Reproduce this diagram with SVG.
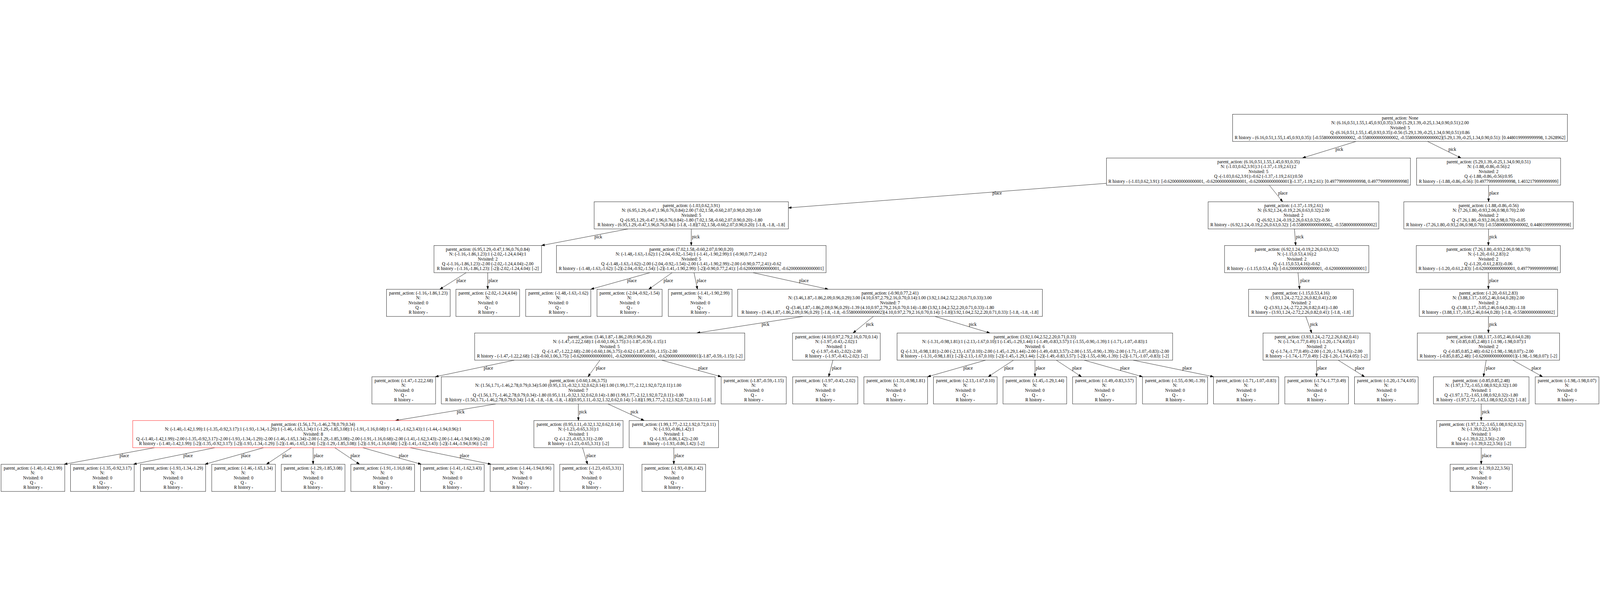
<svg xmlns="http://www.w3.org/2000/svg" width="6533" height="1551" viewBox="0 0 6533 1551">
<style>
:root { width: 100vw; height: 100vh; display: block; overflow: hidden; }
text { font-family: "Liberation Serif", "Times New Roman", serif; font-size: 18.3px; fill: #000; }
.node rect { fill: #fff; stroke: #000; stroke-width: 1.3; }
.node.red rect { stroke: #ff0000; }
.node text { text-anchor: middle; }
.edge path { fill: none; stroke: #000; stroke-width: 1.3; marker-end: url(#arr); }
.edge text { text-anchor: start; }
</style>
<defs>
<marker id="arr" markerWidth="13" markerHeight="10" refX="13" refY="4.5" orient="auto" markerUnits="userSpaceOnUse">
<path d="M0,0 L13,4.5 L0,9 z" fill="#000" stroke="#000" stroke-width="1"/>
</marker>
</defs>
<rect x="0" y="0" width="6533" height="1551" fill="#fff"/>
<g id="connectors">
<g class="edge"><path d="M5536.9,116 L5318.1,183.6"/><text x="5453" y="154.8">pick</text></g>
<g class="edge"><path d="M5828.9,116 L5965.6,183.6"/><text x="5914" y="154.8">pick</text></g>
<g class="edge"><path d="M4518,286.9 L3219,387.1"/><text x="4052" y="333.4">place</text></g>
<g class="edge"><path d="M5182.9,294.6 L5237.1,362.2"/><text x="5218.6" y="333.4">place</text></g>
<g class="edge"><path d="M6078,294.6 L6078,362.2"/><text x="6081" y="333.4">place</text></g>
<g class="edge"><path d="M2564.2,473.2 L2211,540.8"/><text x="2427.2" y="512">pick</text></g>
<g class="edge"><path d="M2822.5,473.2 L2822.5,540.8"/><text x="2825.5" y="512">pick</text></g>
<g class="edge"><path d="M5285.5,473.2 L5290.5,540.8"/><text x="5291.5" y="512">pick</text></g>
<g class="edge"><path d="M6078,473.2 L6077.3,540.8"/><text x="6081" y="512">pick</text></g>
<g class="edge"><path d="M1903.4,651.8 L1796.1,719.4"/><text x="1863.9" y="690.6">place</text></g>
<g class="edge"><path d="M1991.5,651.8 L1991.5,719.4"/><text x="1994.5" y="690.6">place</text></g>
<g class="edge"><path d="M2653.7,651.8 L2412.5,719.4"/><text x="2560.9" y="690.6">place</text></g>
<g class="edge"><path d="M2744.2,651.8 L2648.8,719.4"/><text x="2709.4" y="690.6">place</text></g>
<g class="edge"><path d="M2833.8,651.8 L2847.7,719.4"/><text x="2845.2" y="690.6">place</text></g>
<g class="edge"><path d="M3074.7,651.8 L3381.8,719.4"/><text x="3263.1" y="690.6">place</text></g>
<g class="edge"><path d="M5299.9,651.8 L5306.6,719.4"/><text x="5309" y="690.6">place</text></g>
<g class="edge"><path d="M6077,651.8 L6077.4,719.4"/><text x="6080" y="690.6">place</text></g>
<g class="edge"><path d="M3278.3,830.4 L2845.2,898"/><text x="3109.6" y="869.2">pick</text></g>
<g class="edge"><path d="M3566,830.4 L3483.1,898"/><text x="3536.1" y="869.2">pick</text></g>
<g class="edge"><path d="M3817.8,830.4 L4041.7,898"/><text x="3956" y="869.2">pick</text></g>
<g class="edge"><path d="M5331.7,830.4 L5355.8,898"/><text x="5349.2" y="869.2">pick</text></g>
<g class="edge"><path d="M6077.5,830.4 L6077.5,898"/><text x="6080.5" y="869.2">pick</text></g>
<g class="edge"><path d="M2100,1009 L1777.5,1076.6"/><text x="1975" y="1047.8">place</text></g>
<g class="edge"><path d="M2449.6,1009 L2401,1076.6"/><text x="2433.3" y="1047.8">place</text></g>
<g class="edge"><path d="M2702,1009 L2944.5,1076.6"/><text x="2851" y="1047.8">place</text></g>
<g class="edge"><path d="M3400.9,1009 L3383.6,1076.6"/><text x="3397" y="1047.8">place</text></g>
<g class="edge"><path d="M4024,1009 L3787.5,1076.6"/><text x="3933.3" y="1047.8">place</text></g>
<g class="edge"><path d="M4138,1009 L4035,1076.6"/><text x="4100.2" y="1047.8">place</text></g>
<g class="edge"><path d="M4226,1009 L4226,1076.6"/><text x="4229" y="1047.8">place</text></g>
<g class="edge"><path d="M4313,1009 L4416,1076.6"/><text x="4378.2" y="1047.8">place</text></g>
<g class="edge"><path d="M4427,1009 L4665,1076.6"/><text x="4573.7" y="1047.8">place</text></g>
<g class="edge"><path d="M4627,1009 L4955,1076.6"/><text x="4828" y="1047.8">place</text></g>
<g class="edge"><path d="M5375.7,1009 L5375.9,1076.6"/><text x="5378.7" y="1047.8">place</text></g>
<g class="edge"><path d="M5464.1,1009 L5571.9,1076.6"/><text x="5532.2" y="1047.8">place</text></g>
<g class="edge"><path d="M6068.3,1009 L6057.2,1076.6"/><text x="6066.9" y="1047.8">place</text></g>
<g class="edge"><path d="M6177.3,1009 L6298.7,1076.6"/><text x="6253.6" y="1047.8">place</text></g>
<g class="edge"><path d="M2024.6,1187.6 L1614.9,1255.2"/><text x="1865.2" y="1226.4">pick</text></g>
<g class="edge"><path d="M2361.3,1187.6 L2361.7,1255.2"/><text x="2364.5" y="1226.4">pick</text></g>
<g class="edge"><path d="M2482.4,1187.6 L2630.1,1255.2"/><text x="2574.5" y="1226.4">pick</text></g>
<g class="edge"><path d="M6048,1187.6 L6048,1255.2"/><text x="6051" y="1226.4">pick</text></g>
<g class="edge"><path d="M631,1366.2 L262,1433.8"/><text x="488" y="1405">place</text></g>
<g class="edge"><path d="M877,1366.2 L545,1433.8"/><text x="748.4" y="1405">place</text></g>
<g class="edge"><path d="M1076,1366.2 L837,1433.8"/><text x="984.3" y="1405">place</text></g>
<g class="edge"><path d="M1190,1366.2 L1088,1433.8"/><text x="1152.6" y="1405">place</text></g>
<g class="edge"><path d="M1278.5,1366.2 L1278.5,1433.8"/><text x="1281.5" y="1405">place</text></g>
<g class="edge"><path d="M1367,1366.2 L1468,1433.8"/><text x="1431" y="1405">place</text></g>
<g class="edge"><path d="M1481,1366.2 L1720,1433.8"/><text x="1628.3" y="1405">place</text></g>
<g class="edge"><path d="M1675,1366.2 L2005,1433.8"/><text x="1877.2" y="1405">place</text></g>
<g class="edge"><path d="M2378.6,1366.2 L2398.9,1433.8"/><text x="2393.9" y="1405">place</text></g>
<g class="edge"><path d="M2751.3,1366.2 L2751.3,1433.8"/><text x="2754.3" y="1405">place</text></g>
<g class="edge"><path d="M6048,1366.2 L6048,1433.8"/><text x="6051" y="1405">place</text></g>
</g>
<g id="nodes">
<g id="n_root" class="node" transform="translate(5033,5)"><rect width="1367" height="111"/>
<text x="683.5" y="21.5">parent_action: None</text>
<text x="683.5" y="41.3">N: (6.16,0.51,1.55,1.45,0.93,0.35):3.00 (5.29,1.39,-0.25,1.34,0.90,0.51):2.00</text>
<text x="683.5" y="61.1">Nvisited: 5</text>
<text x="683.5" y="80.9">Q -(6.16,0.51,1.55,1.45,0.93,0.35):-0.56 (5.29,1.39,-0.25,1.34,0.90,0.51):0.86</text>
<text x="683.5" y="100.7">R history - (6.16,0.51,1.55,1.45,0.93,0.35): [-0.5580000000000002, -0.5580000000000002, -0.5580000000000002](5.29,1.39,-0.25,1.34,0.90,0.51): [0.4480199999999998, 1.2628962]</text></g>
<g id="n_a" class="node" transform="translate(4518,183.6)"><rect width="1241" height="111"/>
<text x="620.5" y="21.5">parent_action: (6.16,0.51,1.55,1.45,0.93,0.35)</text>
<text x="620.5" y="41.3">N: (-1.03,0.62,3.91):3 (-1.37,-1.19,2.61):2</text>
<text x="620.5" y="61.1">Nvisited: 5</text>
<text x="620.5" y="80.9">Q -(-1.03,0.62,3.91):-0.62 (-1.37,-1.19,2.61):0.50</text>
<text x="620.5" y="100.7">R history - (-1.03,0.62,3.91): [-0.6200000000000001, -0.6200000000000001, -0.6200000000000001](-1.37,-1.19,2.61): [0.4977999999999998, 0.4977999999999998]</text></g>
<g id="n_b" class="node" transform="translate(5784,183.6)"><rect width="588" height="111"/>
<text x="294" y="21.5">parent_action: (5.29,1.39,-0.25,1.34,0.90,0.51)</text>
<text x="294" y="41.3">N: (-1.88,-0.86,-0.56):2</text>
<text x="294" y="61.1">Nvisited: 2</text>
<text x="294" y="80.9">Q -(-1.88,-0.86,-0.56):0.95</text>
<text x="294" y="100.7">R history - (-1.88,-0.86,-0.56): [0.4977999999999998, 1.4032179999999999]</text></g>
<g id="n_c" class="node" transform="translate(2426,362.2)"><rect width="793" height="111"/>
<text x="396.5" y="21.5">parent_action: (-1.03,0.62,3.91)</text>
<text x="396.5" y="41.3">N: (6.95,1.29,-0.47,1.96,0.76,0.84):2.00 (7.02,1.58,-0.60,2.07,0.90,0.20):3.00</text>
<text x="396.5" y="61.1">Nvisited: 5</text>
<text x="396.5" y="80.9">Q -(6.95,1.29,-0.47,1.96,0.76,0.84):-1.80 (7.02,1.58,-0.60,2.07,0.90,0.20):-1.80</text>
<text x="396.5" y="100.7">R history - (6.95,1.29,-0.47,1.96,0.76,0.84): [-1.8, -1.8](7.02,1.58,-0.60,2.07,0.90,0.20): [-1.8, -1.8, -1.8]</text></g>
<g id="n_d" class="node" transform="translate(4933,362.2)"><rect width="697" height="111"/>
<text x="348.5" y="21.5">parent_action: (-1.37,-1.19,2.61)</text>
<text x="348.5" y="41.3">N: (6.92,1.24,-0.19,2.26,0.63,0.32):2.00</text>
<text x="348.5" y="61.1">Nvisited: 2</text>
<text x="348.5" y="80.9">Q -(6.92,1.24,-0.19,2.26,0.63,0.32):-0.56</text>
<text x="348.5" y="100.7">R history - (6.92,1.24,-0.19,2.26,0.63,0.32): [-0.5580000000000002, -0.5580000000000002]</text></g>
<g id="n_e" class="node" transform="translate(5732,362.2)"><rect width="692" height="111"/>
<text x="346" y="21.5">parent_action: (-1.88,-0.86,-0.56)</text>
<text x="346" y="41.3">N: (7.26,1.80,-0.93,2.06,0.98,0.70):2.00</text>
<text x="346" y="61.1">Nvisited: 2</text>
<text x="346" y="80.9">Q -(7.26,1.80,-0.93,2.06,0.98,0.70):-0.05</text>
<text x="346" y="100.7">R history - (7.26,1.80,-0.93,2.06,0.98,0.70): [-0.5580000000000002, 0.4480199999999998]</text></g>
<g id="n_f" class="node" transform="translate(1772,540.8)"><rect width="439" height="111"/>
<text x="219.5" y="21.5">parent_action: (6.95,1.29,-0.47,1.96,0.76,0.84)</text>
<text x="219.5" y="41.3">N: (-1.16,-1.86,1.23):1 (-2.02,-1.24,4.04):1</text>
<text x="219.5" y="61.1">Nvisited: 2</text>
<text x="219.5" y="80.9">Q -(-1.16,-1.86,1.23):-2.00 (-2.02,-1.24,4.04):-2.00</text>
<text x="219.5" y="100.7">R history - (-1.16,-1.86,1.23): [-2](-2.02,-1.24,4.04): [-2]</text></g>
<g id="n_g" class="node" transform="translate(2272,540.8)"><rect width="1101" height="111"/>
<text x="550.5" y="21.5">parent_action: (7.02,1.58,-0.60,2.07,0.90,0.20)</text>
<text x="550.5" y="41.3">N: (-1.48,-1.63,-1.62):1 (-2.04,-0.92,-1.54):1 (-1.41,-1.90,2.99):1 (-0.90,0.77,2.41):2</text>
<text x="550.5" y="61.1">Nvisited: 5</text>
<text x="550.5" y="80.9">Q -(-1.48,-1.63,-1.62):-2.00 (-2.04,-0.92,-1.54):-2.00 (-1.41,-1.90,2.99):-2.00 (-0.90,0.77,2.41):-0.62</text>
<text x="550.5" y="100.7">R history - (-1.48,-1.63,-1.62): [-2](-2.04,-0.92,-1.54): [-2](-1.41,-1.90,2.99): [-2](-0.90,0.77,2.41): [-0.6200000000000001, -0.6200000000000001]</text></g>
<g id="n_p" class="node" transform="translate(5000,540.8)"><rect width="589" height="111"/>
<text x="294.5" y="21.5">parent_action: (6.92,1.24,-0.19,2.26,0.63,0.32)</text>
<text x="294.5" y="41.3">N: (-1.15,0.53,4.16):2</text>
<text x="294.5" y="61.1">Nvisited: 2</text>
<text x="294.5" y="80.9">Q -(-1.15,0.53,4.16):-0.62</text>
<text x="294.5" y="100.7">R history - (-1.15,0.53,4.16): [-0.6200000000000001, -0.6200000000000001]</text></g>
<g id="n_s" class="node" transform="translate(5783,540.8)"><rect width="588" height="111"/>
<text x="294" y="21.5">parent_action: (7.26,1.80,-0.93,2.06,0.98,0.70)</text>
<text x="294" y="41.3">N: (-1.20,-0.61,2.83):2</text>
<text x="294" y="61.1">Nvisited: 2</text>
<text x="294" y="80.9">Q -(-1.20,-0.61,2.83):-0.06</text>
<text x="294" y="100.7">R history - (-1.20,-0.61,2.83): [-0.6200000000000001, 0.4977999999999998]</text></g>
<g id="n_f1" class="node" transform="translate(1578,719.4)"><rect width="260" height="111"/>
<text x="130" y="21.5">parent_action: (-1.16,-1.86,1.23)</text><text x="130" y="41.3">N: </text><text x="130" y="61.1">Nvisited: 0</text><text x="130" y="80.9">Q - </text><text x="130" y="100.7">R history - </text></g>
<g id="n_f2" class="node" transform="translate(1861.5,719.4)"><rect width="260" height="111"/>
<text x="130" y="21.5">parent_action: (-2.02,-1.24,4.04)</text><text x="130" y="41.3">N: </text><text x="130" y="61.1">Nvisited: 0</text><text x="130" y="80.9">Q - </text><text x="130" y="100.7">R history - </text></g>
<g id="n_g1" class="node" transform="translate(2146.5,719.4)"><rect width="266" height="111"/>
<text x="133" y="21.5">parent_action: (-1.48,-1.63,-1.62)</text><text x="133" y="41.3">N: </text><text x="133" y="61.1">Nvisited: 0</text><text x="133" y="80.9">Q - </text><text x="133" y="100.7">R history - </text></g>
<g id="n_g2" class="node" transform="translate(2437.5,719.4)"><rect width="266" height="111"/>
<text x="133" y="21.5">parent_action: (-2.04,-0.92,-1.54)</text><text x="133" y="41.3">N: </text><text x="133" y="61.1">Nvisited: 0</text><text x="133" y="80.9">Q - </text><text x="133" y="100.7">R history - </text></g>
<g id="n_g3" class="node" transform="translate(2729,719.4)"><rect width="260" height="111"/>
<text x="130" y="21.5">parent_action: (-1.41,-1.90,2.99)</text><text x="130" y="41.3">N: </text><text x="130" y="61.1">Nvisited: 0</text><text x="130" y="80.9">Q - </text><text x="130" y="100.7">R history - </text></g>
<g id="n_h" class="node" transform="translate(3012,719.4)"><rect width="1244" height="111"/>
<text x="622" y="21.5">parent_action: (-0.90,0.77,2.41)</text>
<text x="622" y="41.3">N: (3.46,1.87,-1.86,2.09,0.96,0.29):3.00 (4.10,0.97,2.79,2.16,0.70,0.14):1.00 (3.92,1.04,2.52,2.20,0.71,0.33):3.00</text>
<text x="622" y="61.1">Nvisited: 7</text>
<text x="622" y="80.9">Q -(3.46,1.87,-1.86,2.09,0.96,0.29):-1.39 (4.10,0.97,2.79,2.16,0.70,0.14):-1.80 (3.92,1.04,2.52,2.20,0.71,0.33):-1.80</text>
<text x="622" y="100.7">R history - (3.46,1.87,-1.86,2.09,0.96,0.29): [-1.8, -1.8, -0.5580000000000002](4.10,0.97,2.79,2.16,0.70,0.14): [-1.8](3.92,1.04,2.52,2.20,0.71,0.33): [-1.8, -1.8, -1.8]</text></g>
<g id="n_q" class="node" transform="translate(5098,719.4)"><rect width="428" height="111"/>
<text x="214" y="21.5">parent_action: (-1.15,0.53,4.16)</text>
<text x="214" y="41.3">N: (3.93,1.24,-2.72,2.26,0.82,0.41):2.00</text>
<text x="214" y="61.1">Nvisited: 2</text>
<text x="214" y="80.9">Q -(3.93,1.24,-2.72,2.26,0.82,0.41):-1.80</text>
<text x="214" y="100.7">R history - (3.93,1.24,-2.72,2.26,0.82,0.41): [-1.8, -1.8]</text></g>
<g id="n_t" class="node" transform="translate(5795,719.4)"><rect width="565" height="111"/>
<text x="282.5" y="21.5">parent_action: (-1.20,-0.61,2.83)</text>
<text x="282.5" y="41.3">N: (3.88,1.17,-3.05,2.46,0.64,0.28):2.00</text>
<text x="282.5" y="61.1">Nvisited: 2</text>
<text x="282.5" y="80.9">Q -(3.88,1.17,-3.05,2.46,0.64,0.28):-1.18</text>
<text x="282.5" y="100.7">R history - (3.88,1.17,-3.05,2.46,0.64,0.28): [-1.8, -0.5580000000000002]</text></g>
<g id="n_i" class="node" transform="translate(1938,898)"><rect width="1103" height="111"/>
<text x="551.5" y="21.5">parent_action: (3.46,1.87,-1.86,2.09,0.96,0.29)</text>
<text x="551.5" y="41.3">N: (-1.47,-1.22,2.68):1 (-0.60,1.06,3.75):3 (-1.87,-0.59,-1.15):1</text>
<text x="551.5" y="61.1">Nvisited: 5</text>
<text x="551.5" y="80.9">Q -(-1.47,-1.22,2.68):-2.00 (-0.60,1.06,3.75):-0.62 (-1.87,-0.59,-1.15):-2.00</text>
<text x="551.5" y="100.7">R history - (-1.47,-1.22,2.68): [-2](-0.60,1.06,3.75): [-0.6200000000000001, -0.6200000000000001, -0.6200000000000001](-1.87,-0.59,-1.15): [-2]</text></g>
<g id="n_j" class="node" transform="translate(3236,898)"><rect width="358" height="111"/>
<text x="179" y="21.5">parent_action: (4.10,0.97,2.79,2.16,0.70,0.14)</text>
<text x="179" y="41.3">N: (-1.97,-0.43,-2.02):1</text>
<text x="179" y="61.1">Nvisited: 1</text>
<text x="179" y="80.9">Q -(-1.97,-0.43,-2.02):-2.00</text>
<text x="179" y="100.7">R history - (-1.97,-0.43,-2.02): [-2]</text></g>
<g id="n_k" class="node" transform="translate(3663,898)"><rect width="1125" height="111"/>
<text x="562.5" y="21.5">parent_action: (3.92,1.04,2.52,2.20,0.71,0.33)</text>
<text x="562.5" y="41.3">N: (-1.31,-0.98,1.81):1 (-2.13,-1.67,0.10):1 (-1.45,-1.29,1.44):1 (-1.49,-0.83,3.57):1 (-1.55,-0.90,-1.39):1 (-1.71,-1.07,-0.83):1</text>
<text x="562.5" y="61.1">Nvisited: 6</text>
<text x="562.5" y="80.9">Q -(-1.31,-0.98,1.81):-2.00 (-2.13,-1.67,0.10):-2.00 (-1.45,-1.29,1.44):-2.00 (-1.49,-0.83,3.57):-2.00 (-1.55,-0.90,-1.39):-2.00 (-1.71,-1.07,-0.83):-2.00</text>
<text x="562.5" y="100.7">R history - (-1.31,-0.98,1.81): [-2](-2.13,-1.67,0.10): [-2](-1.45,-1.29,1.44): [-2](-1.49,-0.83,3.57): [-2](-1.55,-0.90,-1.39): [-2](-1.71,-1.07,-0.83): [-2]</text></g>
<g id="n_r" class="node" transform="translate(5157,898)"><rect width="437" height="111"/>
<text x="218.5" y="21.5">parent_action: (3.93,1.24,-2.72,2.26,0.82,0.41)</text>
<text x="218.5" y="41.3">N: (-1.74,-1.77,0.49):1 (-1.20,-1.74,4.05):1</text>
<text x="218.5" y="61.1">Nvisited: 2</text>
<text x="218.5" y="80.9">Q -(-1.74,-1.77,0.49):-2.00 (-1.20,-1.74,4.05):-2.00</text>
<text x="218.5" y="100.7">R history - (-1.74,-1.77,0.49): [-2](-1.20,-1.74,4.05): [-2]</text></g>
<g id="n_u" class="node" transform="translate(5787,898)"><rect width="581" height="111"/>
<text x="290.5" y="21.5">parent_action: (3.88,1.17,-3.05,2.46,0.64,0.28)</text>
<text x="290.5" y="41.3">N: (-0.85,0.85,2.48):1 (-1.98,-1.98,0.07):1</text>
<text x="290.5" y="61.1">Nvisited: 2</text>
<text x="290.5" y="80.9">Q -(-0.85,0.85,2.48):-0.62 (-1.98,-1.98,0.07):-2.00</text>
<text x="290.5" y="100.7">R history - (-0.85,0.85,2.48): [-0.6200000000000001](-1.98,-1.98,0.07): [-2]</text></g>
<g id="n_i1" class="node" transform="translate(1518.5,1076.6)"><rect width="260" height="111"/>
<text x="130" y="21.5">parent_action: (-1.47,-1.22,2.68)</text><text x="130" y="41.3">N: </text><text x="130" y="61.1">Nvisited: 0</text><text x="130" y="80.9">Q - </text><text x="130" y="100.7">R history - </text></g>
<g id="n_l" class="node" transform="translate(1802,1076.6)"><rect width="1118" height="111"/>
<text x="559" y="21.5">parent_action: (-0.60,1.06,3.75)</text>
<text x="559" y="41.3">N: (1.56,1.71,-1.46,2.78,0.79,0.34):5.00 (0.95,1.11,-0.32,1.32,0.62,0.14):1.00 (1.99,1.77,-2.12,1.92,0.72,0.11):1.00</text>
<text x="559" y="61.1">Nvisited: 7</text>
<text x="559" y="80.9">Q -(1.56,1.71,-1.46,2.78,0.79,0.34):-1.80 (0.95,1.11,-0.32,1.32,0.62,0.14):-1.80 (1.99,1.77,-2.12,1.92,0.72,0.11):-1.80</text>
<text x="559" y="100.7">R history - (1.56,1.71,-1.46,2.78,0.79,0.34): [-1.8, -1.8, -1.8, -1.8, -1.8](0.95,1.11,-0.32,1.32,0.62,0.14): [-1.8](1.99,1.77,-2.12,1.92,0.72,0.11): [-1.8]</text></g>
<g id="n_i3" class="node" transform="translate(2944.5,1076.6)"><rect width="266" height="111"/>
<text x="133" y="21.5">parent_action: (-1.87,-0.59,-1.15)</text><text x="133" y="41.3">N: </text><text x="133" y="61.1">Nvisited: 0</text><text x="133" y="80.9">Q - </text><text x="133" y="100.7">R history - </text></g>
<g id="n_j1" class="node" transform="translate(3236.5,1076.6)"><rect width="266" height="111"/>
<text x="133" y="21.5">parent_action: (-1.97,-0.43,-2.02)</text><text x="133" y="41.3">N: </text><text x="133" y="61.1">Nvisited: 0</text><text x="133" y="80.9">Q - </text><text x="133" y="100.7">R history - </text></g>
<g id="n_k1" class="node" transform="translate(3527.5,1076.6)"><rect width="260" height="111"/>
<text x="130" y="21.5">parent_action: (-1.31,-0.98,1.81)</text><text x="130" y="41.3">N: </text><text x="130" y="61.1">Nvisited: 0</text><text x="130" y="80.9">Q - </text><text x="130" y="100.7">R history - </text></g>
<g id="n_k2" class="node" transform="translate(3811.5,1076.6)"><rect width="260" height="111"/>
<text x="130" y="21.5">parent_action: (-2.13,-1.67,0.10)</text><text x="130" y="41.3">N: </text><text x="130" y="61.1">Nvisited: 0</text><text x="130" y="80.9">Q - </text><text x="130" y="100.7">R history - </text></g>
<g id="n_k3" class="node" transform="translate(4095.5,1076.6)"><rect width="260" height="111"/>
<text x="130" y="21.5">parent_action: (-1.45,-1.29,1.44)</text><text x="130" y="41.3">N: </text><text x="130" y="61.1">Nvisited: 0</text><text x="130" y="80.9">Q - </text><text x="130" y="100.7">R history - </text></g>
<g id="n_k4" class="node" transform="translate(4379.5,1076.6)"><rect width="260" height="111"/>
<text x="130" y="21.5">parent_action: (-1.49,-0.83,3.57)</text><text x="130" y="41.3">N: </text><text x="130" y="61.1">Nvisited: 0</text><text x="130" y="80.9">Q - </text><text x="130" y="100.7">R history - </text></g>
<g id="n_k5" class="node" transform="translate(4665,1076.6)"><rect width="266" height="111"/>
<text x="133" y="21.5">parent_action: (-1.55,-0.90,-1.39)</text><text x="133" y="41.3">N: </text><text x="133" y="61.1">Nvisited: 0</text><text x="133" y="80.9">Q - </text><text x="133" y="100.7">R history - </text></g>
<g id="n_k6" class="node" transform="translate(4955,1076.6)"><rect width="266" height="111"/>
<text x="133" y="21.5">parent_action: (-1.71,-1.07,-0.83)</text><text x="133" y="41.3">N: </text><text x="133" y="61.1">Nvisited: 0</text><text x="133" y="80.9">Q - </text><text x="133" y="100.7">R history - </text></g>
<g id="n_r1" class="node" transform="translate(5246,1076.6)"><rect width="260" height="111"/>
<text x="130" y="21.5">parent_action: (-1.74,-1.77,0.49)</text><text x="130" y="41.3">N: </text><text x="130" y="61.1">Nvisited: 0</text><text x="130" y="80.9">Q - </text><text x="130" y="100.7">R history - </text></g>
<g id="n_r2" class="node" transform="translate(5530.5,1076.6)"><rect width="260" height="111"/>
<text x="130" y="21.5">parent_action: (-1.20,-1.74,4.05)</text><text x="130" y="41.3">N: </text><text x="130" y="61.1">Nvisited: 0</text><text x="130" y="80.9">Q - </text><text x="130" y="100.7">R history - </text></g>
<g id="n_v" class="node" transform="translate(5853,1076.6)"><rect width="390" height="111"/>
<text x="195" y="21.5">parent_action: (-0.85,0.85,2.48)</text>
<text x="195" y="41.3">N: (1.97,1.72,-1.65,1.08,0.92,0.32):1.00</text>
<text x="195" y="61.1">Nvisited: 1</text>
<text x="195" y="80.9">Q -(1.97,1.72,-1.65,1.08,0.92,0.32):-1.80</text>
<text x="195" y="100.7">R history - (1.97,1.72,-1.65,1.08,0.92,0.32): [-1.8]</text></g>
<g id="n_u2" class="node" transform="translate(6268.5,1076.6)"><rect width="260" height="111"/>
<text x="130" y="21.5">parent_action: (-1.98,-1.98,0.07)</text><text x="130" y="41.3">N: </text><text x="130" y="61.1">Nvisited: 0</text><text x="130" y="80.9">Q - </text><text x="130" y="100.7">R history - </text></g>
<g id="n_m" class="node red" transform="translate(542,1255.2)"><rect width="1473" height="111"/>
<text x="736.5" y="21.5">parent_action: (1.56,1.71,-1.46,2.78,0.79,0.34)</text>
<text x="736.5" y="41.3">N: (-1.40,-1.42,1.99):1 (-1.35,-0.92,3.17):1 (-1.93,-1.34,-1.29):1 (-1.46,-1.65,1.34):1 (-1.29,-1.85,3.08):1 (-1.91,-1.16,0.68):1 (-1.41,-1.62,3.43):1 (-1.44,-1.94,0.96):1</text>
<text x="736.5" y="61.1">Nvisited: 8</text>
<text x="736.5" y="80.9">Q -(-1.40,-1.42,1.99):-2.00 (-1.35,-0.92,3.17):-2.00 (-1.93,-1.34,-1.29):-2.00 (-1.46,-1.65,1.34):-2.00 (-1.29,-1.85,3.08):-2.00 (-1.91,-1.16,0.68):-2.00 (-1.41,-1.62,3.43):-2.00 (-1.44,-1.94,0.96):-2.00</text>
<text x="736.5" y="100.7">R history - (-1.40,-1.42,1.99): [-2](-1.35,-0.92,3.17): [-2](-1.93,-1.34,-1.29): [-2](-1.46,-1.65,1.34): [-2](-1.29,-1.85,3.08): [-2](-1.91,-1.16,0.68): [-2](-1.41,-1.62,3.43): [-2](-1.44,-1.94,0.96): [-2]</text></g>
<g id="n_n" class="node" transform="translate(2180,1255.2)"><rect width="364" height="111"/>
<text x="182" y="21.5">parent_action: (0.95,1.11,-0.32,1.32,0.62,0.14)</text>
<text x="182" y="41.3">N: (-1.23,-0.65,3.31):1</text>
<text x="182" y="61.1">Nvisited: 1</text>
<text x="182" y="80.9">Q -(-1.23,-0.65,3.31):-2.00</text>
<text x="182" y="100.7">R history - (-1.23,-0.65,3.31): [-2]</text></g>
<g id="n_o" class="node" transform="translate(2569,1255.2)"><rect width="365" height="111"/>
<text x="182.5" y="21.5">parent_action: (1.99,1.77,-2.12,1.92,0.72,0.11)</text>
<text x="182.5" y="41.3">N: (-1.93,-0.86,1.42):1</text>
<text x="182.5" y="61.1">Nvisited: 1</text>
<text x="182.5" y="80.9">Q -(-1.93,-0.86,1.42):-2.00</text>
<text x="182.5" y="100.7">R history - (-1.93,-0.86,1.42): [-2]</text></g>
<g id="n_w" class="node" transform="translate(5866,1255.2)"><rect width="364" height="111"/>
<text x="182" y="21.5">parent_action: (1.97,1.72,-1.65,1.08,0.92,0.32)</text>
<text x="182" y="41.3">N: (-1.39,0.22,3.56):1</text>
<text x="182" y="61.1">Nvisited: 1</text>
<text x="182" y="80.9">Q -(-1.39,0.22,3.56):-2.00</text>
<text x="182" y="100.7">R history - (-1.39,0.22,3.56): [-2]</text></g>
<g id="n_m1" class="node" transform="translate(4.5,1433.8)"><rect width="260" height="111"/>
<text x="130" y="21.5">parent_action: (-1.40,-1.42,1.99)</text><text x="130" y="41.3">N: </text><text x="130" y="61.1">Nvisited: 0</text><text x="130" y="80.9">Q - </text><text x="130" y="100.7">R history - </text></g>
<g id="n_m2" class="node" transform="translate(288,1433.8)"><rect width="260" height="111"/>
<text x="130" y="21.5">parent_action: (-1.35,-0.92,3.17)</text><text x="130" y="41.3">N: </text><text x="130" y="61.1">Nvisited: 0</text><text x="130" y="80.9">Q - </text><text x="130" y="100.7">R history - </text></g>
<g id="n_m3" class="node" transform="translate(573.5,1433.8)"><rect width="266" height="111"/>
<text x="133" y="21.5">parent_action: (-1.93,-1.34,-1.29)</text><text x="133" y="41.3">N: </text><text x="133" y="61.1">Nvisited: 0</text><text x="133" y="80.9">Q - </text><text x="133" y="100.7">R history - </text></g>
<g id="n_m4" class="node" transform="translate(864.5,1433.8)"><rect width="260" height="111"/>
<text x="130" y="21.5">parent_action: (-1.46,-1.65,1.34)</text><text x="130" y="41.3">N: </text><text x="130" y="61.1">Nvisited: 0</text><text x="130" y="80.9">Q - </text><text x="130" y="100.7">R history - </text></g>
<g id="n_m5" class="node" transform="translate(1148.5,1433.8)"><rect width="260" height="111"/>
<text x="130" y="21.5">parent_action: (-1.29,-1.85,3.08)</text><text x="130" y="41.3">N: </text><text x="130" y="61.1">Nvisited: 0</text><text x="130" y="80.9">Q - </text><text x="130" y="100.7">R history - </text></g>
<g id="n_m6" class="node" transform="translate(1432.5,1433.8)"><rect width="260" height="111"/>
<text x="130" y="21.5">parent_action: (-1.91,-1.16,0.68)</text><text x="130" y="41.3">N: </text><text x="130" y="61.1">Nvisited: 0</text><text x="130" y="80.9">Q - </text><text x="130" y="100.7">R history - </text></g>
<g id="n_m7" class="node" transform="translate(1717,1433.8)"><rect width="260" height="111"/>
<text x="130" y="21.5">parent_action: (-1.41,-1.62,3.43)</text><text x="130" y="41.3">N: </text><text x="130" y="61.1">Nvisited: 0</text><text x="130" y="80.9">Q - </text><text x="130" y="100.7">R history - </text></g>
<g id="n_m8" class="node" transform="translate(2001.5,1433.8)"><rect width="260" height="111"/>
<text x="130" y="21.5">parent_action: (-1.44,-1.94,0.96)</text><text x="130" y="41.3">N: </text><text x="130" y="61.1">Nvisited: 0</text><text x="130" y="80.9">Q - </text><text x="130" y="100.7">R history - </text></g>
<g id="n_n1" class="node" transform="translate(2285.5,1433.8)"><rect width="260" height="111"/>
<text x="130" y="21.5">parent_action: (-1.23,-0.65,3.31)</text><text x="130" y="41.3">N: </text><text x="130" y="61.1">Nvisited: 0</text><text x="130" y="80.9">Q - </text><text x="130" y="100.7">R history - </text></g>
<g id="n_o1" class="node" transform="translate(2621,1433.8)"><rect width="260" height="111"/>
<text x="130" y="21.5">parent_action: (-1.93,-0.86,1.42)</text><text x="130" y="41.3">N: </text><text x="130" y="61.1">Nvisited: 0</text><text x="130" y="80.9">Q - </text><text x="130" y="100.7">R history - </text></g>
<g id="n_w1" class="node" transform="translate(5921,1433.8)"><rect width="254" height="111"/>
<text x="127" y="21.5">parent_action: (-1.39,0.22,3.56)</text><text x="127" y="41.3">N: </text><text x="127" y="61.1">Nvisited: 0</text><text x="127" y="80.9">Q - </text><text x="127" y="100.7">R history - </text></g>
</g>
</svg>
